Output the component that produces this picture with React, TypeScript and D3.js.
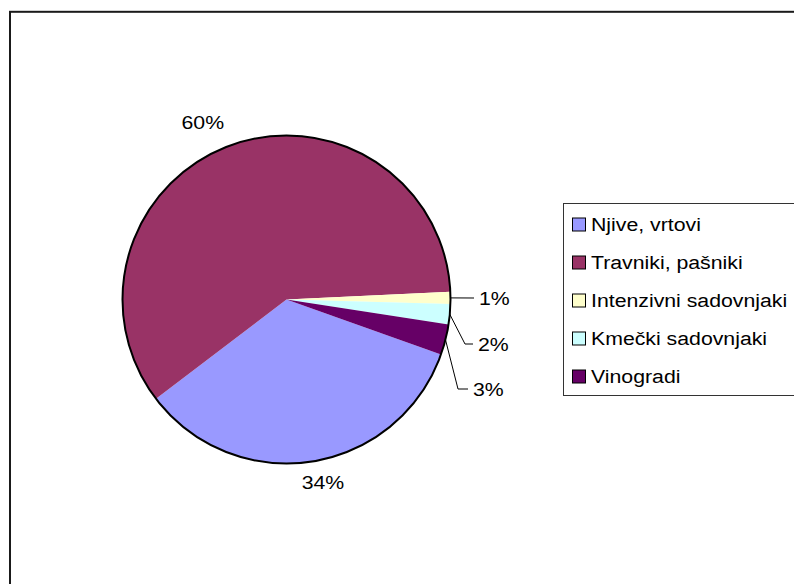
import React from 'react';
import * as d3 from 'd3';

const categories = ['Njive, vrtovi', 'Travniki, pašniki', 'Intenzivni sadovnjaki', 'Kmečki sadovnjaki', 'Vinogradi'];
const values = [34.2, 59.6, 1.2, 2.0, 3.0];
const colors = ['#9999FF', '#993366', '#FFFFCC', '#CCFFFF', '#660066'];

// layout
const W = 794;
const H = 584;
const CX = 286.5;
const CY = 299.5;
const R = 164;
const START_DEG = 109.6;
const FONT = '"Liberation Sans", Arial, sans-serif';
const FS = 19;
const SX = 1.12;

// label placement: [radius from center, dx nudge, dy nudge, leader?]
const labelLayout: [number, number, number, boolean][] = [
  [185, 8, 0, false],
  [195, -17, 6, false],
  [0, 0, 0, true],
  [0, 0, 0, true],
  [0, 0, 0, true],
];
// leader label text centers (y), elbow x and end x for small slices
const leaderY = [0, 0, 298, 344, 389];
const leaderElbowX = [0, 0, 474, 465, 458];
const leaderEndX = [0, 0, 474, 473, 468];

export default function App() {
  const total = d3.sum(values);
  const start = (START_DEG * Math.PI) / 180;
  const pie = d3
    .pie<number>()
    .sort(null)
    .value((d) => d)
    .startAngle(start)
    .endAngle(start + 2 * Math.PI);
  const arcs = pie(values);
  const arc = d3.arc<d3.PieArcDatum<number>>().innerRadius(0).outerRadius(R);
  const pct = (v: number) => `${Math.round((v / total) * 100)}%`;

  const polar = (a: number, r: number): [number, number] => [CX + r * Math.sin(a), CY - r * Math.cos(a)];

  const legendTop = 203.5;
  const legendStep = 38;
  const legendFirst = 224.5;

  return (
    <svg
      width={W}
      height={H}
      style={{ position: 'absolute', left: 0, top: 0, display: 'block', background: '#fff' }}
    >
      <rect x={10} y={11.8} width={W + 20} height={H + 20} fill="#fff" stroke="#1a1a1a" strokeWidth={2} />
      <g>
        {arcs.map((a, i) => (
          <path key={i} d={arc(a) || ''} transform={`translate(${CX},${CY})`} fill={colors[i]} stroke="none" />
        ))}
        <circle cx={CX} cy={CY} r={R} fill="none" stroke="#000" strokeWidth={2} />
      </g>
      {arcs.map((a, i) => {
        const mid = (a.startAngle + a.endAngle) / 2;
        const [rr, dx, dy, leader] = labelLayout[i];
        if (!leader) {
          const [x, y] = polar(mid, rr);
          return (
            <text
              key={i}
              x={0}
              y={0}
              transform={`translate(${x + dx},${y + dy}) scale(${SX},1)`}
              textAnchor="middle"
              dy="0.35em"
              fontFamily={FONT}
              fontSize={FS}
              fill="#000"
            >
              {pct(values[i])}
            </text>
          );
        }
        const [sx, sy] = polar(mid, R);
        const ty = leaderY[i];
        const ex = leaderElbowX[i];
        const endX = leaderEndX[i];
        const pts: [number, number][] = [
          [sx, sy],
          [ex, ty],
          [endX, ty],
        ];
        return (
          <g key={i}>
            <polyline points={pts.map((p) => p.join(',')).join(' ')} fill="none" stroke="#000" strokeWidth={1} />
            <text
              x={0}
              y={0}
              transform={`translate(${endX + 5},${ty}) scale(${SX},1)`}
              dy="0.35em"
              fontFamily={FONT}
              fontSize={FS}
              fill="#000"
            >
              {pct(values[i])}
            </text>
          </g>
        );
      })}
      <rect x={563.5} y={legendTop} width={300} height={192} fill="#fff" stroke="#333" strokeWidth={1} />
      {categories.map((c, i) => {
        const y = legendFirst + i * legendStep;
        return (
          <g key={c}>
            <rect x={572.5} y={y - 6.5} width={13} height={13} fill={colors[i]} stroke="#000" strokeWidth={1} />
            <text
              x={0}
              y={0}
              transform={`translate(591,${y}) scale(${SX},1)`}
              dy="0.35em"
              fontFamily={FONT}
              fontSize={FS}
              fill="#000"
            >
              {c}
            </text>
          </g>
        );
      })}
    </svg>
  );
}
